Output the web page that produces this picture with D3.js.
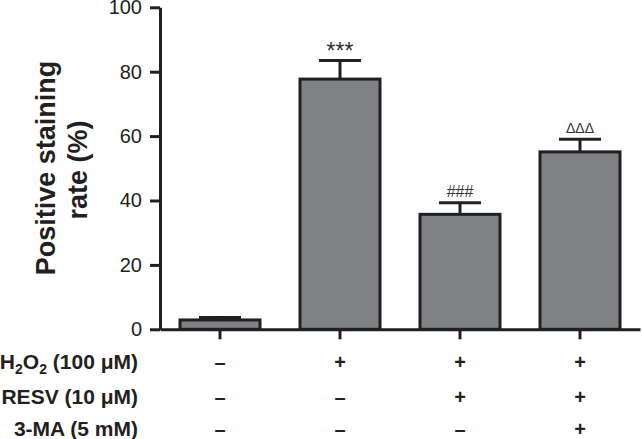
<!DOCTYPE html>
<html>
<head>
<meta charset="utf-8">
<script src="https://cdn.jsdelivr.net/npm/d3@7"></script>
<style>
  body { margin: 0; background: #fff; }
  text { font-family: "Liberation Sans", Arial, sans-serif; }
</style>
</head>
<body>
<script>
// data
const groups = ['Control', 'H2O2', 'H2O2+RESV', 'H2O2+RESV+3-MA'];
const rates = [2.9, 77.7, 35.7, 55.1];
const errs = [0.8, 5.8, 3.6, 3.9];
const marks = ['', '***', '###', 'ΔΔΔ'];
const yTicks = [0, 20, 40, 60, 80, 100];
const treatments = ['H2O2 (100 μM)', 'RESV (10 μM)', '3-MA (5 mM)'];
const signs = [
    ['–', '+', '+', '+'],
    ['–', '–', '+', '+'],
    ['–', '–', '–', '+']
];

const width = 642;
const height = 439;
const ink = '#231f20';

var svg = d3.select('body').append('svg')
    .attr('width', width).attr('height', height);

let xscale = d3.scaleBand()
    .domain(groups)
    .range([160, 640])
    .paddingInner(1 / 3)
    .paddingOuter(1 / 6);

let yscale = d3.scaleLinear()
    .domain([0, 100])
    .range([329.3, 7.3]);

///////////////////////
// Bars
const data = groups.map((g, i) => ({ g: g, v: rates[i], e: errs[i], m: marks[i] }));

svg.selectAll('rect.bar').data(data).enter().append('rect')
    .attr('class', 'bar')
    .attr('x', d => xscale(d.g))
    .attr('y', d => yscale(d.v))
    .attr('width', xscale.bandwidth())
    .attr('height', d => yscale(0) - yscale(d.v))
    .attr('fill', '#808184')
    .attr('stroke', ink)
    .attr('stroke-width', 3);

// error bars (upper only)
let eb = svg.selectAll('g.err').data(data).enter().append('g').attr('class', 'err');
eb.append('line')
    .attr('x1', d => xscale(d.g) + xscale.bandwidth() / 2)
    .attr('x2', d => xscale(d.g) + xscale.bandwidth() / 2)
    .attr('y1', d => yscale(d.v))
    .attr('y2', d => yscale(d.v + d.e))
    .attr('stroke', ink).attr('stroke-width', 3);
eb.append('line')
    .attr('x1', d => xscale(d.g) + xscale.bandwidth() / 2 - 21)
    .attr('x2', d => xscale(d.g) + xscale.bandwidth() / 2 + 21)
    .attr('y1', d => yscale(d.v + d.e))
    .attr('y2', d => yscale(d.v + d.e))
    .attr('stroke', ink).attr('stroke-width', 3);

// significance marks
const markSize = [0, 23, 16, 14];
const markGap = [0, 0, 6, 6];
svg.selectAll('text.mark').data(data).enter().append('text')
    .attr('class', 'mark')
    .attr('x', d => xscale(d.g) + xscale.bandwidth() / 2)
    .attr('y', (d, i) => yscale(d.v + d.e) - markGap[i] + (i == 1 ? -1 : 0))
    .attr('text-anchor', 'middle')
    .attr('font-size', (d, i) => markSize[i])
    .attr('fill', '#333')
    .text(d => d.m);

///////////////////////
// Axis
var yAxis = d3.axisLeft(yscale).tickValues(yTicks).tickSize(10).tickPadding(8).tickSizeOuter(0);
let gy = svg.append('g')
    .attr('transform', 'translate(160,0)')
    .call(yAxis);
gy.selectAll('path, line').attr('stroke', ink).attr('stroke-width', 3);
gy.selectAll('text').attr('font-size', 20).attr('fill', ink)
    .style('font-family', '"Liberation Sans", Arial, sans-serif');

var xAxis = d3.axisBottom(xscale).tickSize(10).tickSizeOuter(0).tickFormat('');
let gx = svg.append('g')
    .attr('transform', 'translate(0,' + yscale(0) + ')')
    .call(xAxis);
gx.selectAll('path, line').attr('stroke', ink).attr('stroke-width', 3);

// y label
const ylab = [['Positive staining', 55, 168], ['rate (%)', 87, 170]];
svg.selectAll('text.ylab').data(ylab).enter().append('text')
    .attr('class', 'ylab')
    .attr('transform', d => 'translate(' + d[1] + ',' + d[2] + ') rotate(-90)')
    .attr('text-anchor', 'middle')
    .attr('font-size', 27)
    .attr('font-weight', 'bold')
    .attr('fill', ink)
    .text(d => d[0]);

///////////////////////
// treatment table
const rowY = [369, 403.5, 435.5];

let lab = svg.selectAll('text.treat').data(treatments).enter().append('text')
    .attr('class', 'treat')
    .attr('x', 138)
    .attr('y', (d, i) => rowY[i])
    .attr('text-anchor', 'end')
    .attr('font-size', 21)
    .attr('font-weight', 'bold')
    .attr('fill', ink);

// H2O2 gets subscripts
lab.each(function (d) {
    let t = d3.select(this);
    if (d.startsWith('H2O2')) {
        t.append('tspan').text('H');
        t.append('tspan').attr('font-size', 14).attr('dy', 5).text('2');
        t.append('tspan').attr('dy', -5).text('O');
        t.append('tspan').attr('font-size', 14).attr('dy', 5).text('2');
        t.append('tspan').attr('dy', -5).text(d.slice(4));
    } else {
        t.text(d);
    }
});

signs.forEach((row, r) => {
    svg.selectAll('text.sign' + r).data(row).enter().append('text')
        .attr('class', 'sign' + r)
        .attr('x', (d, i) => xscale(groups[i]) + xscale.bandwidth() / 2)
        .attr('y', rowY[r])
        .attr('text-anchor', 'middle')
        .attr('font-size', 20)
        .attr('font-weight', 'bold')
        .attr('fill', ink)
        .text(d => d);
});
</script>
</body>
</html>
